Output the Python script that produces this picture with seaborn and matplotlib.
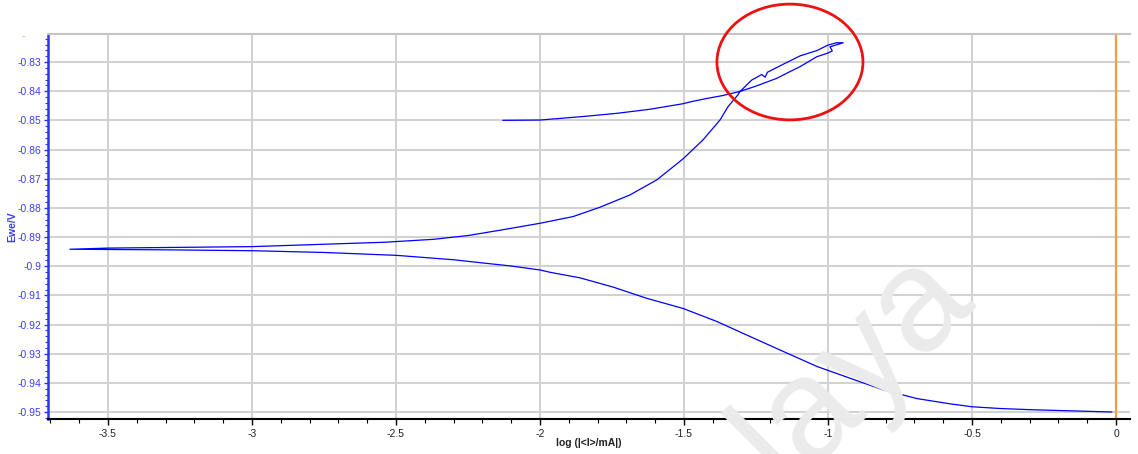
import numpy as np
import pandas as pd
import matplotlib
matplotlib.use("Agg")
import matplotlib.pyplot as plt
from matplotlib.patches import Ellipse
from matplotlib.ticker import MultipleLocator, FuncFormatter
import seaborn as sns

# ---- data (log|I| in log(mA), Ewe in V) ----
cathodic_logi = [-0.014, -0.299, -0.403, -0.500, -0.576, -0.691, -0.809, -0.924, -1.038,
                 -1.156, -1.271, -1.385, -1.503, -1.630, -1.745, -1.861, -1.965, -2.000,
                 -2.104, -2.208, -2.300, -2.497, -2.750, -3.000, -3.300, -3.632]
cathodic_ewe = [-0.9500, -0.9492, -0.9488, -0.9482, -0.9472, -0.9454, -0.9424, -0.9384, -0.9344,
                -0.9292, -0.9241, -0.9190, -0.9145, -0.9110, -0.9072, -0.9040, -0.9021, -0.9013,
                -0.8999, -0.8988, -0.8978, -0.8963, -0.8953, -0.8947, -0.8944, -0.8942]

anodic_logi = [-3.500, -3.000, -2.540, -2.370, -2.250, -2.140, -2.000, -1.885, -1.792,
               -1.688, -1.594, -1.503, -1.434, -1.375, -1.347, -1.313, -1.306]
anodic_ewe = [-0.8938, -0.8933, -0.8918, -0.8908, -0.8895, -0.8877, -0.8853, -0.8830, -0.8798,
              -0.8756, -0.8704, -0.8632, -0.8567, -0.8499, -0.8453, -0.8413, -0.8402]

loop_up_logi = [-1.265, -1.230, -1.218, -1.210, -1.156, -1.097, -1.039, -1.000, -0.970, -0.947]
loop_up_ewe = [-0.8362, -0.8343, -0.8352, -0.8335, -0.8308, -0.8279, -0.8261, -0.8242, -0.8234, -0.8234]

return_logi = [-0.993, -0.985, -1.002, -1.039, -1.097, -1.132, -1.178, -1.248, -1.306, -1.365,
               -1.421, -1.479, -1.503, -1.618, -1.733, -1.851, -2.000, -2.129]
return_ewe = [-0.8248, -0.8262, -0.8270, -0.8282, -0.8316, -0.8333, -0.8356, -0.8382, -0.8401, -0.8415,
              -0.8425, -0.8437, -0.8443, -0.8462, -0.8476, -0.8487, -0.8499, -0.8500]

x_ticks = [-3.5, -3, -2.5, -2, -1.5, -1, -0.5, 0]
y_ticks = [-0.83, -0.84, -0.85, -0.86, -0.87, -0.88, -0.89, -0.9, -0.91, -0.92, -0.93, -0.94, -0.95]

# ---- build table ----
logi = cathodic_logi + anodic_logi + loop_up_logi + return_logi
ewe = cathodic_ewe + anodic_ewe + loop_up_ewe + return_ewe
df = pd.DataFrame({"logI": logi, "Ewe": ewe, "order": np.arange(len(logi))})

sns.set_theme(style="white")
plt.rcParams['font.family'] = ['Liberation Sans', 'DejaVu Sans']

W, H = 1138, 454
fig = plt.figure(figsize=(W / 100, H / 100), dpi=100)
L, R, T, B = 48, 1130, 34, 419
ax = fig.add_axes([L / W, 1 - B / H, (R - L) / W, (B - T) / H])

blue_txt = '#3c3cff'
grid_c = '#d2d2d2'

sns.lineplot(data=df, x="logI", y="Ewe", sort=False, estimator=None, color='#0000ff',
             linewidth=0.9, ax=ax, zorder=3)

ax.set_xlim(-3.708, 0.0486)
ax.set_ylim(-0.9524, -0.8204)

ax.set_xticks(x_ticks)
ax.set_yticks(y_ticks)
ax.xaxis.set_minor_locator(MultipleLocator(0.1))
ax.yaxis.set_minor_locator(MultipleLocator(0.002))
fmt = FuncFormatter(lambda v, p: ('%g' % round(v, 4)))
ax.xaxis.set_major_formatter(fmt)
ax.yaxis.set_major_formatter(fmt)

ax.grid(True, which='major', color=grid_c, linewidth=1.5, zorder=0)
ax.set_axisbelow(True)

ax.spines['right'].set_visible(False)
ax.spines['top'].set_color('#c4c4c4')
ax.spines['top'].set_linewidth(1.5)
ax.spines['left'].set_color('#3030ff')
ax.spines['left'].set_linewidth(1.8)
ax.spines['bottom'].set_color('black')
ax.spines['bottom'].set_linewidth(1.5)

ax.tick_params(axis='y', which='major', direction='out', length=3, width=1, color='#3030ff',
               labelcolor=blue_txt, labelsize=7.5, pad=1.5, left=True)
ax.tick_params(axis='y', which='minor', direction='out', length=2, width=0.8, color='#3030ff', left=True)
ax.tick_params(axis='x', which='major', direction='out', length=4, width=1, color='black',
               labelcolor='#222222', labelsize=7.5, pad=3, bottom=True)
ax.tick_params(axis='x', which='minor', direction='out', length=3, width=0.8, color='black', bottom=True)

ax.set_xlabel('log (|<I>/mA|)', fontsize=7.5, fontweight='bold', color='#222222')
ax.set_ylabel('Ewe/V', fontsize=7.5, fontweight='bold', color=blue_txt)
ax.xaxis.set_label_coords(0.5, -(443 - B) / (B - T))
ax.xaxis.label.set_va('center')
ax.yaxis.set_label_coords(-(L - 12) / (R - L), 0.5)
ax.yaxis.label.set_va('center')

# orange vertical marker at 0
ax.axvline(0, color='#f5a040', linewidth=1.6, zorder=2)
fig.text(23 / W, 1 - 36 / H, '-', color='#f5a040', fontsize=7, ha='center', va='center')

# red highlight ellipse
ell = Ellipse((-1.132, -0.830), width=0.507, height=0.0397, fill=False, edgecolor='#ee1111',
              linewidth=2, clip_on=False, zorder=5)
ax.add_patch(ell)

# faint watermark (cut off by the bottom edge, as in the original)
fig.text(975 / W, 1 - 299 / H, 'laya', color='#ebebeb', fontsize=105, rotation=45,
         rotation_mode='anchor', ha='right', va='baseline', zorder=0)

fig.savefig('out.png', dpi=100)
